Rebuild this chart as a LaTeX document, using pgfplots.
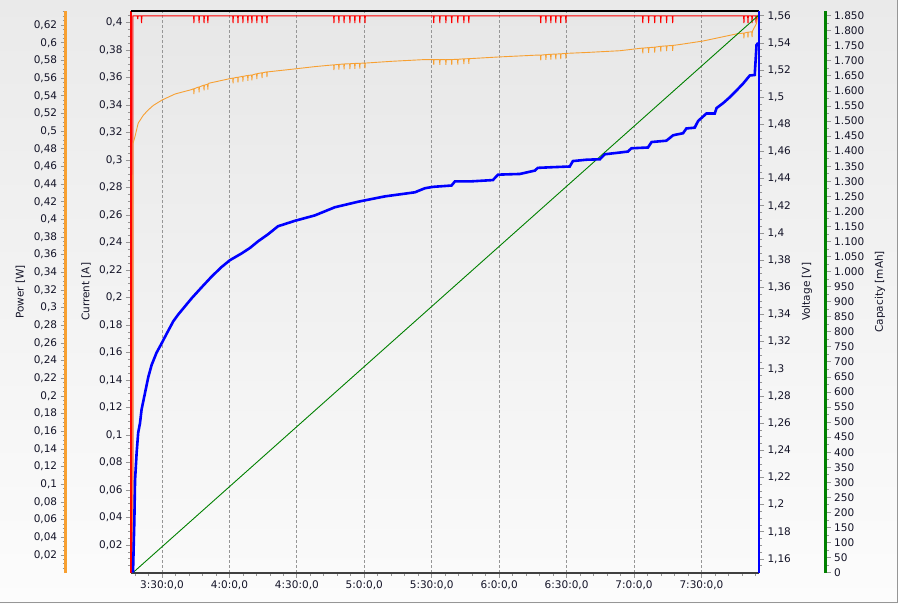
\documentclass[border=0pt]{standalone}
\usepackage{pgfplots}
\pgfplotsset{compat=1.18}
\usepackage{fontspec}
\setmainfont{DejaVu Sans}
\definecolor{pwr}{RGB}{247,160,50}
\definecolor{capgreen}{RGB}{0,128,0}
\definecolor{tickc}{RGB}{150,150,150}
\definecolor{txt}{RGB}{20,20,40}
\definecolor{axgray}{RGB}{64,64,64}
\definecolor{outtop}{RGB}{234,234,234}
\definecolor{outbot}{RGB}{252,252,252}
\definecolor{intop}{RGB}{231,231,231}
\definecolor{inbot}{RGB}{250,250,250}
\definecolor{framec}{RGB}{150,150,150}

\pgfplotsset{
  every axis/.append style={
    scale only axis, width=628pt, height=561.6pt, anchor=south west,
    xmin=196.2, xmax=475.6,
    tick align=outside, major tick length=5pt, minor tick length=3pt,
    tick style={tickc, line width=0.8pt},
    tick label style={font=\fontsize{10.5}{12}\selectfont, text=txt},
    label style={font=\fontsize{10.5}{12}\selectfont, text=txt},
    /pgf/number format/assume math mode=true,
    /pgf/number format/fixed,
    /pgf/number format/precision=3,
    /pgf/number format/use comma,
    scaled y ticks=false,
  }
}

\begin{document}
\begin{tikzpicture}
\shade[top color=outtop, bottom color=outbot] (-131pt,-31.4pt) rectangle (767pt,572.6pt);

% ---------- Current axis (main) ----------
\begin{axis}[at={(0pt,0pt)},
  axis background/.style={top color=intop, bottom color=inbot},
  axis x line*=bottom, axis y line*=left,
  x axis line style={line width=2pt, axgray},
  y axis line style={line width=2.5pt, red},
  ymin=0, ymax=0.4085,
  xtick={210,240,270,300,330,360,390,420,450},
  xticklabels={{3:30:0,0},{4:0:0,0},{4:30:0,0},{5:0:0,0},{5:30:0,0},{6:0:0,0},{6:30:0,0},{7:0:0,0},{7:30:0,0}},
  minor xtick={198,204,...,474},
  xmajorgrids,
  major grid style={tickc, dash pattern=on 3pt off 2pt, line width=0.8pt},
  ytick={0.02,0.04,0.06,0.08,0.1,0.12,0.14,0.16,0.18,0.2,0.22,0.24,0.26,0.28,0.3,0.32,0.34,0.36,0.38,0.4},
  minor ytick={0.005,0.01,...,0.405},
  ylabel={Current [A]},
  ylabel style={at={([xshift=-45pt]axis description cs:0,0.5)}, anchor=center},
]
\addplot[red, line width=1pt, line join=bevel] coordinates {
(197.0,0) (197.05,0.405) (199.05,0.405) (199.2,0.4026) (199.35,0.405)
(200.75,0.405) (200.9,0.3997) (201.05,0.405)
(224.05,0.405) (224.2,0.3997) (224.35,0.405)
(226.35,0.405) (226.5,0.3997) (226.65,0.405)
(228.55,0.405) (228.7,0.3997) (228.85,0.405)
(230.25,0.405) (230.4,0.3997) (230.55,0.405)
(241.45,0.405) (241.6,0.3997) (241.75,0.405)
(243.65,0.405) (243.8,0.3997) (243.95,0.405)
(245.85,0.405) (246.0,0.3997) (246.15,0.405)
(248.05,0.405) (248.2,0.3997) (248.35,0.405)
(249.85,0.405) (250.0,0.3997) (250.15,0.405)
(252.05,0.405) (252.2,0.3997) (252.35,0.405)
(254.35,0.405) (254.5,0.3997) (254.65,0.405)
(256.55,0.405) (256.7,0.3997) (256.85,0.405)
(286.35,0.405) (286.5,0.3997) (286.65,0.405)
(288.55,0.405) (288.7,0.3997) (288.85,0.405)
(290.85,0.405) (291.0,0.3997) (291.15,0.405)
(293.45,0.405) (293.6,0.3997) (293.75,0.405)
(295.65,0.405) (295.8,0.3997) (295.95,0.405)
(297.85,0.405) (298.0,0.3997) (298.15,0.405)
(300.15,0.405) (300.3,0.3997) (300.45,0.405)
(330.75,0.405) (330.9,0.3997) (331.05,0.405)
(333.45,0.405) (333.6,0.3997) (333.75,0.405)
(336.15,0.405) (336.3,0.3997) (336.45,0.405)
(338.75,0.405) (338.9,0.3997) (339.05,0.405)
(341.45,0.405) (341.6,0.3997) (341.75,0.405)
(344.15,0.405) (344.3,0.3997) (344.45,0.405)
(346.35,0.405) (346.5,0.3997) (346.65,0.405)
(378.35,0.405) (378.5,0.3997) (378.65,0.405)
(380.65,0.405) (380.8,0.3997) (380.95,0.405)
(382.85,0.405) (383.0,0.3997) (383.15,0.405)
(385.05,0.405) (385.2,0.3997) (385.35,0.405)
(387.25,0.405) (387.4,0.3997) (387.55,0.405)
(389.55,0.405) (389.7,0.3997) (389.85,0.405)
(423.75,0.405) (423.9,0.3997) (424.05,0.405)
(426.35,0.405) (426.5,0.3997) (426.65,0.405)
(429.05,0.405) (429.2,0.3997) (429.35,0.405)
(431.75,0.405) (431.9,0.3997) (432.05,0.405)
(434.35,0.405) (434.5,0.3997) (434.65,0.405)
(437.05,0.405) (437.2,0.3997) (437.35,0.405)
(468.75,0.405) (468.9,0.3997) (469.05,0.405)
(470.55,0.405) (470.7,0.3997) (470.85,0.405)
(472.35,0.405) (472.5,0.3997) (472.65,0.405)
(474.15,0.405) (474.3,0.3997) (474.45,0.405)
(475.5,0.405)
};
\end{axis}

% ---------- Power data ----------
\begin{axis}[at={(0pt,0pt)}, hide axis, ymin=0, ymax=0.636]
\addplot[pwr, line width=0.9pt, line join=bevel] coordinates {
(197.0,0) (197.05,0.43) (197.1,0.486) (198.0,0.494) (199.4,0.509) (201.7,0.518)
(203.9,0.524) (206.1,0.529) (209.9,0.535) (215.8,0.542) (223.2,0.547)
(224.05,0.548) (224.2,0.542) (224.35,0.548)
(226.35,0.550) (226.5,0.544) (226.65,0.550)
(228.55,0.552) (228.7,0.546) (228.85,0.552)
(230.25,0.553) (230.4,0.547) (230.55,0.554)
(239.5,0.559)
(241.45,0.560) (241.6,0.554) (241.75,0.560)
(243.65,0.561) (243.8,0.555) (243.95,0.561)
(245.85,0.562) (246.0,0.556) (246.15,0.562)
(248.05,0.563) (248.2,0.557) (248.35,0.563)
(249.85,0.5635) (250.0,0.5575) (250.15,0.5635)
(252.05,0.565) (252.2,0.559) (252.35,0.565)
(254.35,0.566) (254.5,0.560) (254.65,0.566)
(256.55,0.567) (256.7,0.561) (256.85,0.567)
(267.7,0.570) (278.0,0.573)
(286.35,0.575) (286.5,0.569) (286.65,0.575)
(288.55,0.5755) (288.7,0.5695) (288.85,0.5755)
(290.85,0.576) (291.0,0.570) (291.15,0.576)
(293.45,0.5763) (293.6,0.5703) (293.75,0.5763)
(295.65,0.5766) (295.8,0.5706) (295.95,0.5766)
(297.85,0.5768) (298.0,0.5708) (298.15,0.5768)
(300.15,0.577) (300.3,0.571) (300.45,0.577)
(312.1,0.579) (327.0,0.581)
(330.75,0.581) (330.9,0.575) (331.05,0.581)
(333.45,0.581) (333.6,0.575) (333.75,0.581)
(336.15,0.581) (336.3,0.575) (336.45,0.581)
(338.75,0.581) (338.9,0.575) (339.05,0.581)
(341.45,0.5813) (341.6,0.5753) (341.75,0.5813)
(344.15,0.5818) (344.3,0.5758) (344.45,0.5818)
(346.35,0.582) (346.5,0.576) (346.65,0.582)
(360.3,0.584) (376.6,0.586)
(378.35,0.586) (378.5,0.580) (378.65,0.586)
(380.65,0.5866) (380.8,0.5806) (380.95,0.5866)
(382.85,0.587) (383.0,0.581) (383.15,0.587)
(385.05,0.5872) (385.2,0.5812) (385.35,0.5872)
(387.25,0.5875) (387.4,0.5815) (387.55,0.5875)
(389.55,0.588) (389.7,0.582) (389.85,0.588)
(398.9,0.589) (413.7,0.591)
(423.75,0.594) (423.9,0.588) (424.05,0.594)
(426.35,0.5945) (426.5,0.5885) (426.65,0.5945)
(429.05,0.595) (429.2,0.589) (429.35,0.595)
(431.75,0.596) (431.9,0.590) (432.05,0.596)
(434.35,0.5965) (434.5,0.5905) (434.65,0.5965)
(437.05,0.597) (437.2,0.591) (437.35,0.597)
(440.3,0.598) (450.7,0.602) (458.1,0.606) (465.5,0.610)
(468.75,0.611) (468.9,0.605) (469.05,0.611)
(470.55,0.612) (470.7,0.606) (470.85,0.612)
(472.35,0.6125) (472.5,0.6065) (472.65,0.613)
(474.5,0.622) (475.2,0.632)
};
\end{axis}

% ---------- Capacity data ----------
\begin{axis}[at={(0pt,0pt)}, hide axis, ymin=0, ymax=1865.6]
\addplot[capgreen, line width=0.9pt] coordinates {(197.1,0) (475.2,1850)};
\end{axis}

% ---------- Voltage axis ----------
\begin{axis}[at={(0pt,0pt)},
  axis y line*=right, axis x line*=top,
  x axis line style={line width=1.2pt, black},
  y axis line style={line width=2.5pt, blue},
  xtick=\empty,
  ymin=1.15, ymax=1.5635,
  ytick={1.16,1.18,1.2,1.22,1.24,1.26,1.28,1.3,1.32,1.34,1.36,1.38,1.4,1.42,1.44,1.46,1.48,1.5,1.52,1.54,1.56},
  minor ytick={1.155,1.16,...,1.5635},
  ylabel={Voltage [V]},
  ylabel style={at={([xshift=48pt]axis description cs:1,0.5)}, anchor=center},
]
\addplot[blue, line width=2.6pt] coordinates {
(197.1,1.150) (197.7,1.189) (198.0,1.218) (198.7,1.238) (199.4,1.253)
(200.2,1.260) (200.9,1.270) (202.4,1.282) (203.9,1.294) (205.4,1.303)
(207.6,1.312) (209.9,1.319) (212.1,1.326) (215.0,1.335) (217.2,1.340)
(220.2,1.346) (223.2,1.352) (227.6,1.360) (232.1,1.368) (236.5,1.375)
(240.2,1.380) (245.4,1.385) (249.1,1.389) (252.8,1.394) (257.1,1.399)
(261.6,1.405) (269.1,1.409) (278.0,1.413) (286.9,1.419) (297.1,1.423)
(309.2,1.427) (322.5,1.430) (327.0,1.433) (330.5,1.434) (338.8,1.435)
(340.3,1.438) (347.0,1.438) (357.2,1.439) (359.5,1.443) (369.2,1.4435)
(375.9,1.446) (377.2,1.448) (383.9,1.4485) (391.4,1.449) (392.8,1.453)
(398.9,1.454) (404.8,1.4543) (407.0,1.458) (412.2,1.459) (417.3,1.460)
(418.8,1.4624) (426.2,1.463) (427.8,1.467) (434.4,1.468) (437.4,1.472)
(441.8,1.4735) (443.3,1.477) (447.0,1.4776) (448.5,1.4825) (452.2,1.488)
(455.9,1.488) (456.7,1.492) (459.6,1.4956) (462.6,1.500) (465.6,1.505)
(468.5,1.510) (471.5,1.516) (473.7,1.5164) (474.5,1.5385) (475.2,1.540)
};
\end{axis}

% ---------- Power scale ----------
\begin{axis}[at={(-65.3pt,0pt)}, width=1pt, xmin=0, xmax=1,
  axis x line=none, axis y line*=left,
  y axis line style={line width=2.5pt, pwr},
  ymin=0, ymax=0.636,
  ytick={0.02,0.04,0.06,0.08,0.1,0.12,0.14,0.16,0.18,0.2,0.22,0.24,0.26,0.28,0.3,0.32,0.34,0.36,0.38,0.4,0.42,0.44,0.46,0.48,0.5,0.52,0.54,0.56,0.58,0.6,0.62},
  minor ytick={0.005,0.01,...,0.635},
  ylabel={Power [W]},
  ylabel style={at={([xshift=-45.3pt]axis description cs:0,0.5)}, anchor=center},
]
\end{axis}

% ---------- Capacity scale ----------
\begin{axis}[at={(693.7pt,0pt)}, width=1pt, xmin=0, xmax=1,
  axis x line=none, axis y line*=right,
  y axis line style={line width=2.5pt, capgreen},
  ymin=0, ymax=1865.6,
  ytick={0,50,...,1850},
  minor ytick={25,75,...,1850},
  ylabel={Capacity [mAh]},
  ylabel style={at={([xshift=54.3pt]axis description cs:1,0.5)}, anchor=center},
]
\end{axis}

\draw[line width=1pt, framec] (-131pt,-30.4pt) -- (766.4pt,-30.4pt) -- (766.4pt,572.6pt);
\pgfresetboundingbox
\path (-131pt,-31.4pt) rectangle (767pt,572.6pt);
\end{tikzpicture}
\end{document}
